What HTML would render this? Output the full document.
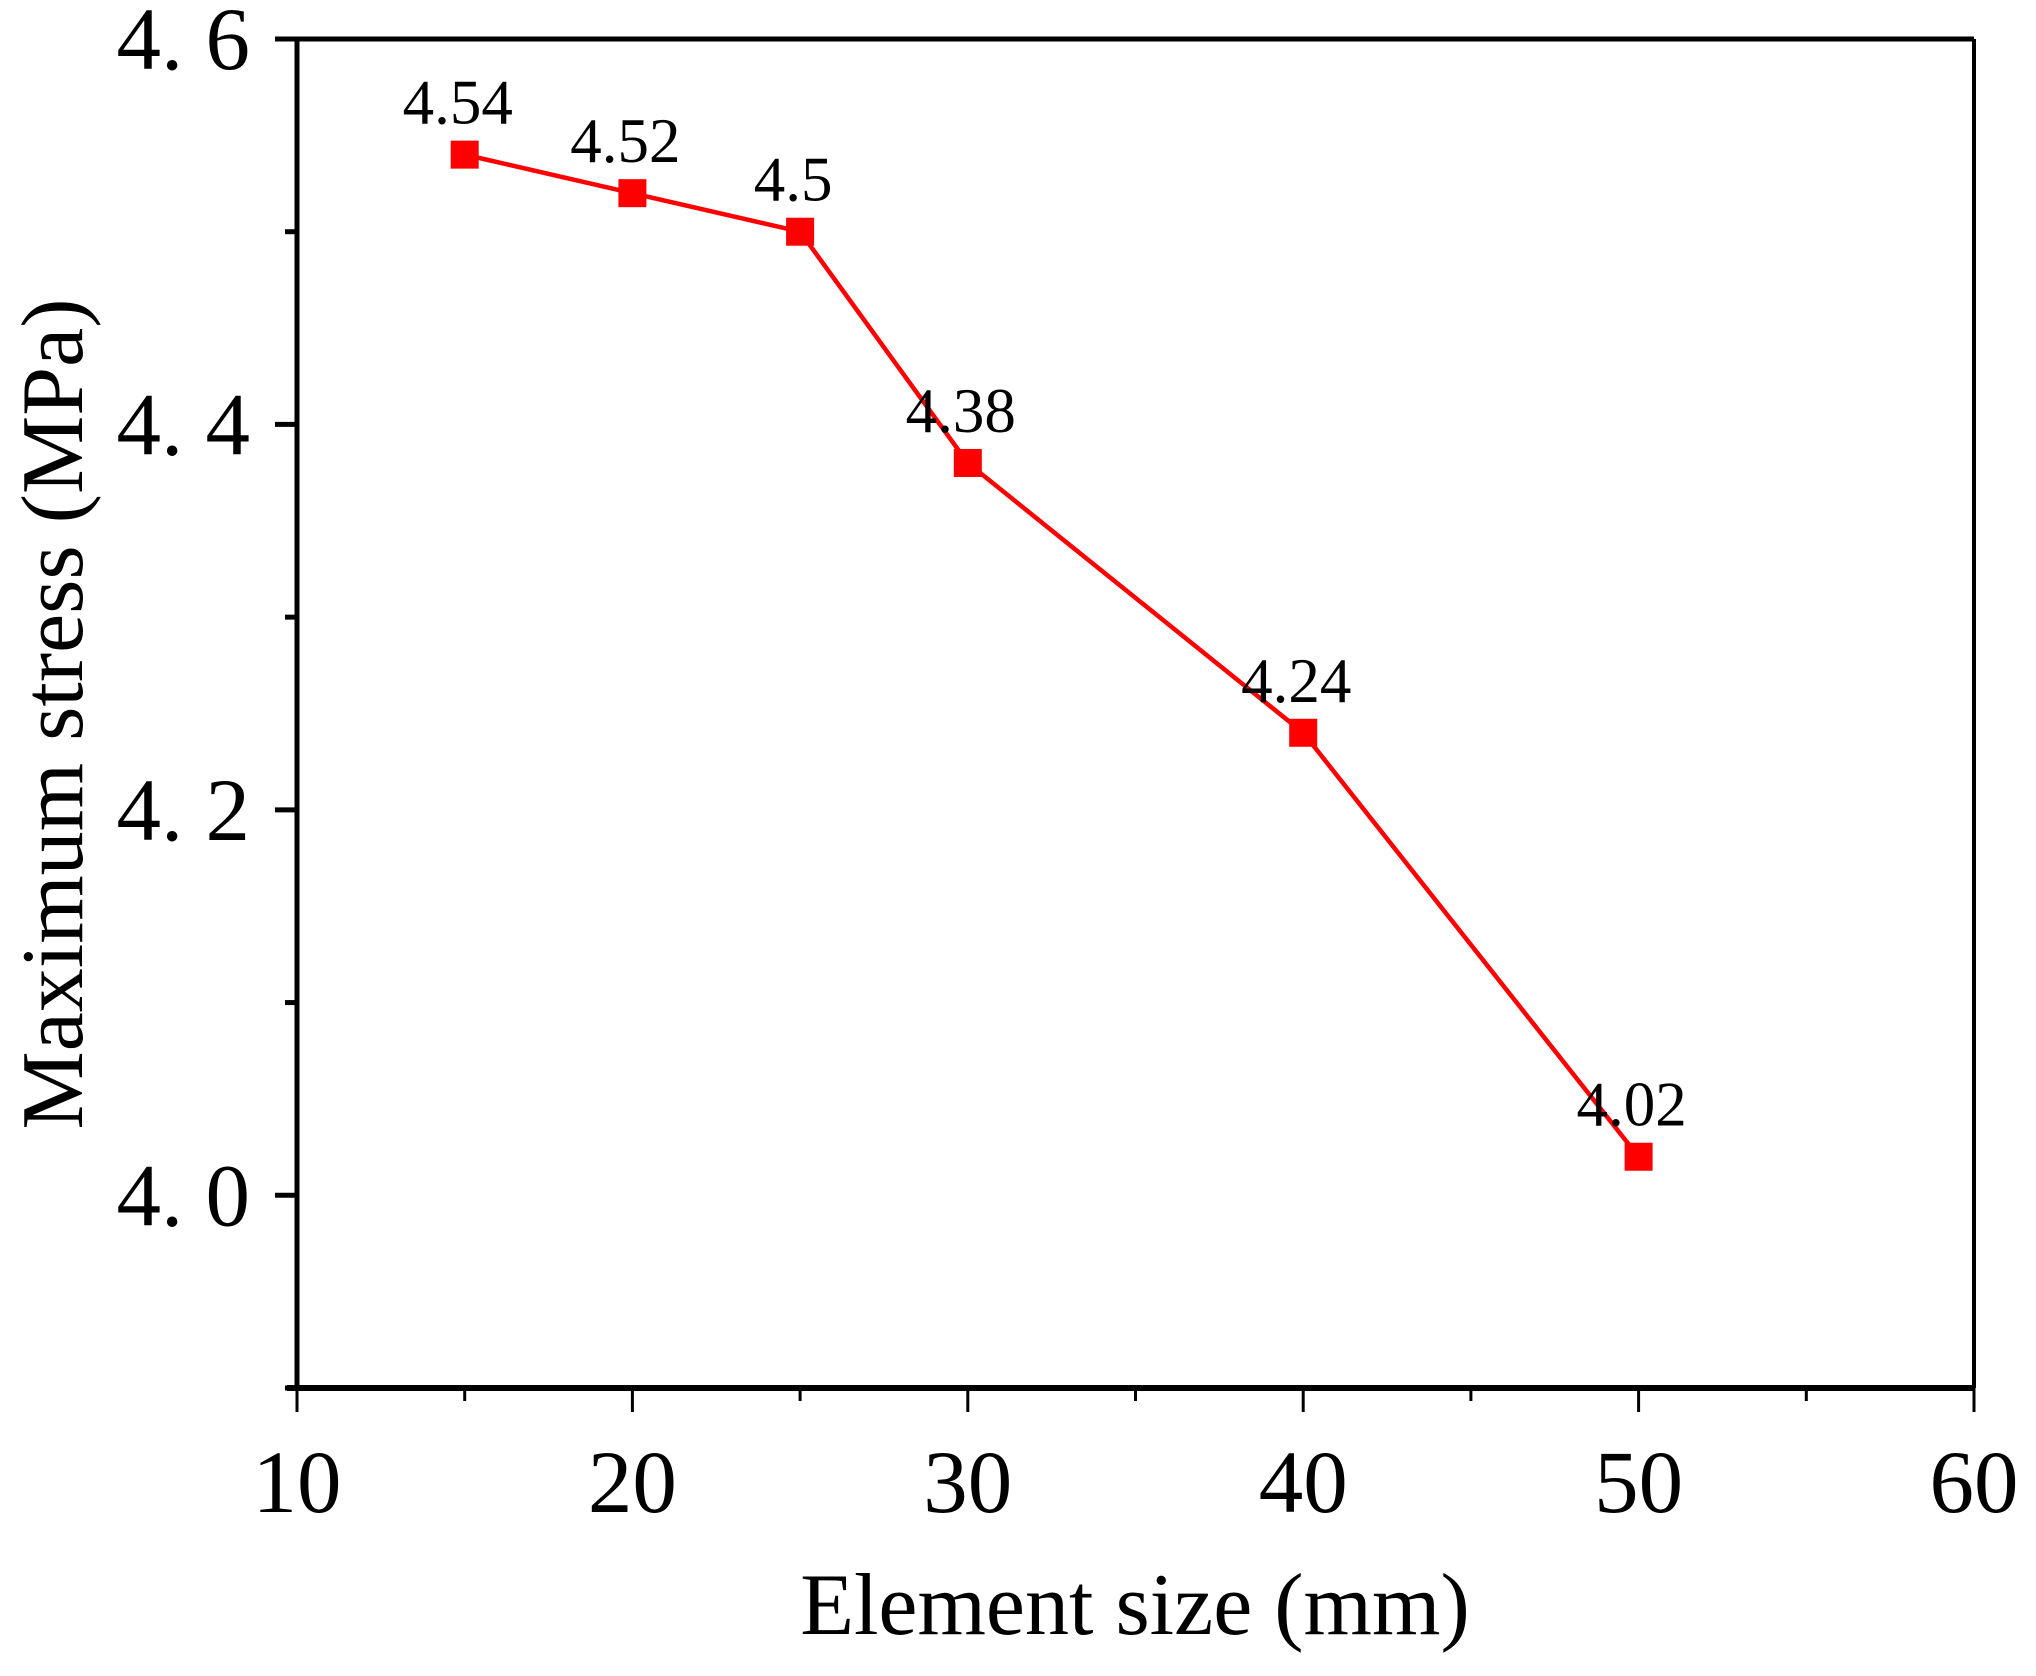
<!DOCTYPE html>
<html><head><meta charset="utf-8"><style>html,body{margin:0;padding:0;background:#fff}svg{display:block}</style></head>
<body>
<svg id="chart" width="2036" height="1676" viewBox="0 0 2036 1676" xmlns="http://www.w3.org/2000/svg" font-family="'Liberation Serif', serif">
<g id="axes"></g>
<g id="series"></g>
<text x="1135" y="1634" font-size="88" text-anchor="middle">Element size (mm)</text>
<text transform="translate(82,714) rotate(-90)" font-size="88" text-anchor="middle">Maximum stress (MPa)</text>
</svg>
<script>
const xValues = [15, 20, 25, 30, 40, 50];
const yValues = [4.54, 4.52, 4.5, 4.38, 4.24, 4.02];
const pointLabels = ["4.54", "4.52", "4.5", "4.38", "4.24", "4.02"];
const xTicks = [10, 20, 30, 40, 50, 60];
const xTickLabels = ["10", "20", "30", "40", "50", "60"];
const xMinor = [15, 25, 35, 45, 55];
const yTicks = [4.0, 4.2, 4.4, 4.6];
const yTickLabels = ["4. 0", "4. 2", "4. 4", "4. 6"];
const yMinor = [3.9, 4.1, 4.3, 4.5];

const L=297,R=1974,T=39,B=1388,xmin=10,xmax=60,ymin=3.9,ymax=4.6;
const X=v=>L+(v-xmin)/(xmax-xmin)*(R-L);
const Y=v=>B-(v-ymin)/(ymax-ymin)*(B-T);
const NS="http://www.w3.org/2000/svg";
function mk(tag,attrs,parent){const e=document.createElementNS(NS,tag);for(const k in attrs)e.setAttribute(k,attrs[k]);parent.appendChild(e);return e;}
const axes=document.getElementById('axes'),series=document.getElementById('series');

let e;
e=mk('line',{x1:L,y1:T,x2:R,y2:T,stroke:'#000','stroke-width':5},axes);

e=mk('line',{x1:R,y1:T,x2:R,y2:B,stroke:'#000','stroke-width':4},axes);

e=mk('line',{x1:L,y1:T-2,x2:L,y2:B+3,stroke:'#000','stroke-width':5},axes);

e=mk('line',{x1:L-10,y1:B,x2:R,y2:B,stroke:'#000','stroke-width':6},axes);


xTicks.forEach((v,i)=>{
  let t=mk('line',{x1:X(v),y1:B,x2:X(v),y2:B+24,stroke:'#000','stroke-width':3},axes);
  
  let s=mk('text',{x:X(v),y:1512,'font-size':89,'text-anchor':'middle'},axes);
  s.textContent=xTickLabels[i];
  
});
xMinor.forEach(v=>{
  let t=mk('line',{x1:X(v),y1:B,x2:X(v),y2:B+13,stroke:'#000','stroke-width':3},axes);
  
});
yTicks.forEach((v,i)=>{
  let t=mk('line',{x1:L-22,y1:Y(v),x2:L,y2:Y(v),stroke:'#000','stroke-width':5},axes);
  
  let s=mk('text',{x:250,y:Y(v)+30,'font-size':89,'text-anchor':'end'},axes);
  s.textContent=yTickLabels[i];
  
});
yMinor.forEach(v=>{
  let t=mk('line',{x1:L-12,y1:Y(v),x2:L,y2:Y(v),stroke:'#000','stroke-width':5},axes);
  
});

e=mk('polyline',{points:xValues.map((v,i)=>X(v)+','+Y(yValues[i])).join(' '),fill:'none',stroke:'#ff0000','stroke-width':4.5},series);

xValues.forEach((v,i)=>{
  let m=mk('rect',{x:X(v)-14,y:Y(yValues[i])-14,width:28,height:28,fill:'#ff0000'},series);
  
  let s=mk('text',{x:X(v)-7,y:Y(yValues[i])-31,'font-size':63,'text-anchor':'middle'},series);
  s.textContent=pointLabels[i];
  
});
</script>
</body></html>
